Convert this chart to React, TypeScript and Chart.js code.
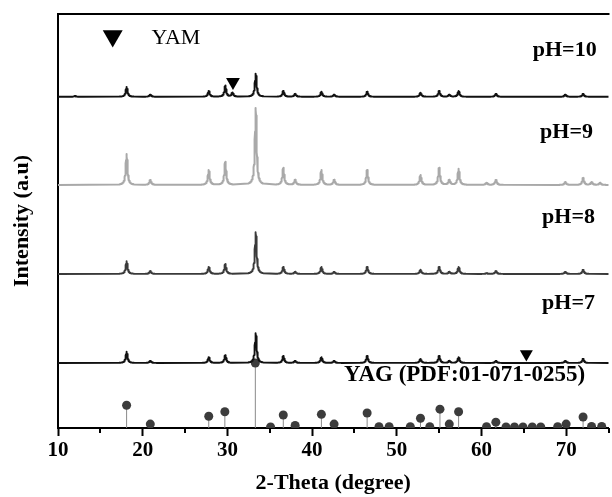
import React, { useEffect, useRef } from 'react';
import { Chart, registerables } from 'chart.js';

Chart.register(...registerables);

// ---- axis ----
const X_MIN = 10;
const X_MAX = 75;
const X_STEP = 5;
const Y_MIN = 0;
const Y_MAX = 1000;

// ---- XRD patterns: peak positions (2θ) and peak heights (a.u.) ----
const PH10_POS = [12.0, 18.1, 20.9, 27.8, 29.75, 30.6, 33.35, 36.6, 38.0, 41.1, 42.6, 46.5, 52.8, 55.0, 56.2, 57.3, 61.7, 69.9, 72.0];
const PH10_INT = [2, 24, 5, 14, 27, 10, 56, 14, 7, 12, 5, 12, 10, 14, 5, 14, 7, 5, 7];
const PH10_OFFSET = 800;

const PH9_POS = [18.1, 20.9, 27.8, 29.75, 33.35, 36.6, 38.0, 41.1, 42.6, 46.5, 52.8, 55.0, 56.2, 57.3, 60.6, 61.7, 69.9, 72.0, 73.0, 74.0];
const PH9_INT = [75, 12, 36, 56, 186, 41, 12, 36, 12, 36, 24, 41, 12, 39, 5, 12, 7, 17, 7, 5];
const PH9_OFFSET = 587;

const PH8_POS = [18.1, 20.9, 27.8, 29.75, 33.35, 36.6, 38.0, 41.1, 42.6, 46.5, 52.8, 55.0, 56.2, 57.3, 60.6, 61.7, 69.9, 72.0];
const PH8_INT = [31, 7, 17, 24, 101, 17, 5, 17, 5, 17, 10, 17, 5, 17, 2, 7, 5, 10];
const PH8_OFFSET = 372;

const PH7_POS = [18.1, 20.9, 27.8, 29.75, 33.35, 36.6, 38.0, 41.1, 42.6, 46.5, 52.8, 55.0, 56.2, 57.3, 61.7, 69.9, 72.0];
const PH7_INT = [27, 5, 14, 19, 72, 17, 5, 14, 5, 17, 10, 17, 5, 14, 5, 5, 10];
const PH7_OFFSET = 157;

// ---- YAG reference pattern (PDF:01-071-0255): position and relative intensity (%) ----
const YAG_POS = [18.1, 20.9, 27.8, 29.7, 33.3, 35.1, 36.6, 38.0, 41.1, 42.6, 46.5, 47.9, 49.1, 51.6, 52.8, 53.9, 55.1, 56.2, 57.3, 60.6, 61.7, 62.9, 63.9, 64.9, 66.0, 67.0, 69.0, 70.0, 72.0, 73.0, 74.2];
const YAG_PCT = [35, 6, 18, 25, 100, 1.5, 20, 4, 21, 6, 23, 2, 2, 2, 15, 2, 29, 6, 25, 2, 9, 1.5, 1.5, 1.5, 1.5, 1.5, 2, 6, 17, 2.5, 2.5];
const YAG_SCALE = 1.57;

// ---- YAM markers ----
const YAM_POS = [16.46, 30.66, 65.3];
const YAM_Y = [947, 836, 179];
const YAM_SIZE = [11.5, 8, 7.5];

// ---- labels ----
const TRACE_LABELS = ['pH=10', 'pH=9', 'pH=8', 'pH=7'];
const TRACE_LABEL_X = [73.6, 73.17, 73.4, 73.4];
const TRACE_LABEL_Y = [913, 715, 510, 302];

const FONT = "'Liberation Serif', 'Times New Roman', Times, serif";
const GAMMA = 0.12;
const SAMPLE_STEP = 0.02;
const SAMPLE_HALF_RANGE = 0.9;

function buildTrace(pos: number[], ints: number[], base: number) {
  const xs = new Set<number>([X_MIN, X_MAX]);
  const n = Math.round(SAMPLE_HALF_RANGE / SAMPLE_STEP);
  pos.forEach((p) => {
    for (let k = -n; k <= n; k++) {
      const x = +(p + k * SAMPLE_STEP).toFixed(3);
      if (x >= X_MIN && x <= X_MAX) xs.add(x);
    }
  });
  const sorted = Array.from(xs).sort((a, b) => a - b);
  return sorted.map((x) => ({
    x,
    y: base + pos.reduce((s, p, i) => s + ints[i] / (1 + ((x - p) / GAMMA) ** 2), 0),
  }));
}

const labelsPlugin = {
  id: 'xrdLabels',
  afterDraw(chart: any) {
    const { ctx, chartArea, scales } = chart;
    const xs = scales.x;
    const ys = scales.y;
    ctx.save();
    // top frame line
    ctx.strokeStyle = '#000';
    ctx.lineWidth = 2;
    ctx.beginPath();
    ctx.moveTo(chartArea.left - 1, chartArea.top);
    ctx.lineTo(chartArea.right + 1, chartArea.top);
    ctx.stroke();
    // minor ticks
    for (let v = X_MIN + X_STEP; v <= X_MAX; v += 2 * X_STEP) {
      const px = Math.round(xs.getPixelForValue(v));
      ctx.beginPath();
      ctx.moveTo(px, chartArea.bottom);
      ctx.lineTo(px, chartArea.bottom + 5);
      ctx.stroke();
    }
    ctx.fillStyle = '#000';
    ctx.textBaseline = 'middle';
    ctx.font = `bold 22px ${FONT}`;
    ctx.textAlign = 'right';
    TRACE_LABELS.forEach((t, i) => {
      ctx.fillText(t, xs.getPixelForValue(TRACE_LABEL_X[i]), ys.getPixelForValue(TRACE_LABEL_Y[i]));
    });
    ctx.font = `bold 23px ${FONT}`;
    ctx.textAlign = 'center';
    ctx.fillText('YAG (PDF:01-071-0255)', xs.getPixelForValue(58.0), ys.getPixelForValue(128));
    ctx.font = `22px ${FONT}`;
    ctx.textAlign = 'left';
    ctx.fillText('YAM', xs.getPixelForValue(21.04), ys.getPixelForValue(942));
    ctx.restore();
  },
};

export default function App() {
  const canvasRef = useRef<HTMLCanvasElement | null>(null);

  useEffect(() => {
    if (!canvasRef.current) return;
    const stickData: any[] = [];
    YAG_POS.forEach((p, i) => {
      stickData.push({ x: p, y: 0 }, { x: p, y: YAG_PCT[i] * YAG_SCALE }, { x: p, y: null });
    });
    const dotData = YAG_POS.map((p, i) => ({ x: p, y: YAG_PCT[i] * YAG_SCALE }));
    const yamData = YAM_POS.map((p, i) => ({ x: p, y: YAM_Y[i] }));

    const lineDs = (data: any[], color: string, width: number) => ({
      type: 'line' as const,
      data,
      borderColor: color,
      borderWidth: width,
      borderJoinStyle: 'round',
      pointRadius: 0,
      tension: 0,
      fill: false,
      order: 0,
      clip: 4,
    });

    const chart = new Chart(canvasRef.current, {
      type: 'scatter',
      data: {
        datasets: [
          lineDs(buildTrace(PH10_POS, PH10_INT, PH10_OFFSET), '#111111', 1.9),
          lineDs(buildTrace(PH9_POS, PH9_INT, PH9_OFFSET), '#a9a9a9', 2),
          lineDs(buildTrace(PH8_POS, PH8_INT, PH8_OFFSET), '#3a3a3a', 1.9),
          lineDs(buildTrace(PH7_POS, PH7_INT, PH7_OFFSET), '#111111', 1.9),
          {
            type: 'line' as const,
            data: stickData,
            borderColor: '#8a8a8a',
            borderWidth: 1,
            pointRadius: 0,
            spanGaps: false,
            order: 3,
          },
          {
            type: 'scatter' as const,
            data: dotData,
            pointRadius: 4.5,
            pointBackgroundColor: '#3c3c3c',
            pointBorderWidth: 0,
            order: 2,
            clip: { left: 10, right: 10, top: 10, bottom: 0 },
          },
          {
            type: 'scatter' as const,
            data: yamData,
            pointStyle: 'triangle',
            pointRotation: 180,
            pointRadius: YAM_SIZE,
            pointBackgroundColor: '#000',
            pointBorderColor: '#000',
            pointBorderWidth: 0,
            order: 1,
            clip: false,
          },
        ] as any,
      },
      options: {
        animation: false,
        responsive: true,
        maintainAspectRatio: false,
        layout: { padding: { top: 14, right: 7, bottom: 0, left: 0 } },
        plugins: { legend: { display: false }, tooltip: { enabled: false } },
        events: [],
        scales: {
          x: {
            type: 'linear',
            min: X_MIN,
            max: X_MAX,
            afterFit: (s: any) => { s.height = 69; },
            border: { display: true, color: '#000', width: 2 },
            grid: {
              display: true,
              drawOnChartArea: false,
              drawTicks: true,
              tickLength: 8,
              tickWidth: 2,
              tickColor: (c: any) => (c.tick && c.tick.value % 10 === 0 ? '#000' : 'rgba(0,0,0,0)'),
            },
            ticks: {
              stepSize: X_STEP,
              autoSkip: false,
              maxRotation: 0,
              padding: 2,
              color: '#000',
              font: { family: FONT, size: 21, weight: 'bold' },
              callback: (v: any) => (Number(v) % 10 === 0 && Number(v) < X_MAX ? String(v) : ''),
            },
            title: {
              display: true,
              text: '2-Theta (degree)',
              color: '#000',
              font: { family: FONT, size: 22, weight: 'bold' },
              padding: { top: 0, bottom: 0 },
            },
          },
          y: {
            type: 'linear',
            min: Y_MIN,
            max: Y_MAX,
            afterFit: (s: any) => { s.width = 58; },
            border: { display: true, color: '#000', width: 2 },
            grid: { display: false },
            ticks: { display: false },
            title: {
              display: true,
              text: 'Intensity (a.u)',
              color: '#000',
              font: { family: FONT, size: 22, weight: 'bold' },
              padding: { top: 9, bottom: 0 },
            },
          },
        },
      } as any,
      plugins: [labelsPlugin],
    });
    return () => chart.destroy();
  }, []);

  return (
    <div style={{ position: 'fixed', left: 0, top: 0, width: 612, height: 497, overflow: 'hidden', background: '#fff' }}>
      <div style={{ position: 'relative', width: 620, height: 497 }}>
        <canvas ref={canvasRef} />
      </div>
    </div>
  );
}
